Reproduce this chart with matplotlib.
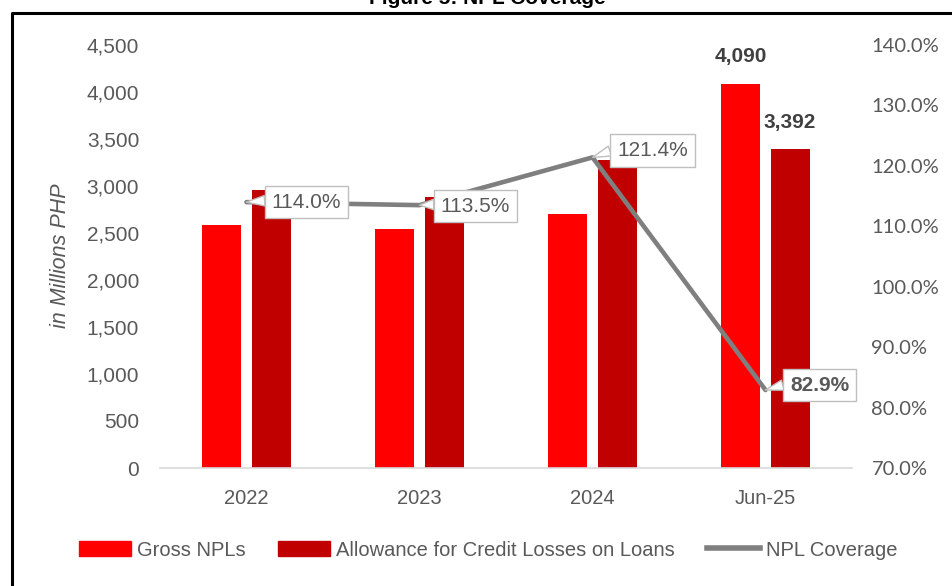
import matplotlib
matplotlib.use("Agg")
import matplotlib.pyplot as plt
from matplotlib.lines import Line2D
from matplotlib.patches import Patch
from matplotlib.ticker import FuncFormatter, MultipleLocator
import numpy as np

categories = ["2022", "2023", "2024", "Jun-25"]
gross_npls = [2590, 2540, 2700, 4090]
allowance = [2953, 2883, 3278, 3392]
npl_coverage = [1.140, 1.135, 1.214, 0.829]
coverage_labels = ["114.0%", "113.5%", "121.4%", "82.9%"]
bar_labels_last = ["4,090", "3,392"]

RED = "#FF0000"
DARK_RED = "#C00000"
LINE_GRAY = "#7F7F7F"
TEXT_GRAY = "#595959"
NUM_FONT = ["Liberation Sans", "DejaVu Sans"]
NARROW_FONT = ["Liberation Sans", "DejaVu Sans"]
RIGHT_FONT = ["Lato", "DejaVu Sans"]

fig = plt.figure(figsize=(9.52, 5.86), dpi=100)
W, H = 952, 586
ax = fig.add_axes([160 / W, 118 / H, 692 / W, 423 / H])
ax2 = ax.twinx()

x = np.arange(len(categories))
bw = 0.225
off = 0.142
ax.bar(x - off, gross_npls, bw, color=RED, zorder=2)
ax.bar(x + off, allowance, bw, color=DARK_RED, zorder=2)

ax.set_xlim(-0.5, len(categories) - 0.5)
ax.set_ylim(0, 4500)
ax.yaxis.set_major_locator(MultipleLocator(500))
ax.yaxis.set_major_formatter(FuncFormatter(lambda v, p: f"{int(v):,}"))
ax.set_xticks(x)
ax.set_xticklabels(categories)

for s in ["top", "right", "left"]:
    ax.spines[s].set_visible(False)
    ax2.spines[s].set_visible(False)
ax.spines["bottom"].set_color("#D9D9D9")
ax.spines["bottom"].set_linewidth(1.2)
ax2.spines["bottom"].set_visible(False)

ax.tick_params(axis="y", length=0, pad=15, labelsize=15, labelcolor=TEXT_GRAY)
ax.tick_params(axis="x", length=0, pad=15, labelsize=14.5, labelcolor=TEXT_GRAY)
for lab in ax.get_yticklabels() + ax.get_xticklabels():
    lab.set_fontfamily(NUM_FONT)

ax.set_ylabel("in Millions PHP", fontsize=15.5, color=TEXT_GRAY, style="italic",
              family=NARROW_FONT)
ax.yaxis.set_label_coords(-0.128, 0.503)

# coverage line on secondary axis
ax2.set_ylim(0.70, 1.40)
ax2.yaxis.set_major_locator(MultipleLocator(0.10))
ax2.yaxis.set_major_formatter(FuncFormatter(lambda v, p: f"{v * 100:.1f}%"))
ax2.tick_params(axis="y", length=0, pad=14, labelsize=14.5, labelcolor=TEXT_GRAY)
for lab in ax2.get_yticklabels():
    lab.set_fontfamily(RIGHT_FONT)
ax2.plot(x, npl_coverage, color=LINE_GRAY, lw=3.3, zorder=3, solid_capstyle="round")

# callout labels for the coverage line
offsets = [(60, 0), (56, -1), (60, 7), (54, 5)]
for i, (val, lbl) in enumerate(zip(npl_coverage, coverage_labels)):
    ax2.annotate(lbl, xy=(x[i], val), xytext=offsets[i], textcoords="offset pixels",
                 ha="center", va="center", fontsize=15, color=TEXT_GRAY,
                 family=NUM_FONT, fontweight="bold" if i == 3 else "normal",
                 bbox=dict(boxstyle="square,pad=0.32", fc="white", ec="#BFBFBF", lw=1),
                 arrowprops=dict(arrowstyle="wedge,tail_width=0.5,shrink_factor=0.5",
                                 fc="white", ec="#BFBFBF", lw=1,
                                 shrinkA=0, shrinkB=0, relpos=(0.0, 0.6)),
                 zorder=5)

# value labels above the latest bars
ax.annotate(bar_labels_last[0], xy=(x[3] - off, gross_npls[3]), xytext=(0, 18),
            textcoords="offset pixels", ha="center", va="bottom", fontsize=15,
            fontweight="bold", color="#404040", family=NUM_FONT)
ax.annotate(bar_labels_last[1], xy=(x[3] + off, allowance[3]), xytext=(0, 17),
            textcoords="offset pixels", ha="center", va="bottom", fontsize=15,
            fontweight="bold", color="#404040", family=NUM_FONT)

# legend
handles = [Patch(color=RED), Patch(color=DARK_RED), Line2D([], [], color=LINE_GRAY, lw=4)]
names = ["Gross NPLs", "Allowance for Credit Losses on Loans", "NPL Coverage"]
fig.legend(handles, names, loc="center", bbox_to_anchor=(488 / W, 1 - 550 / H),
           ncol=3, frameon=False, handlelength=2.6, handleheight=0.75,
           handletextpad=0.3, columnspacing=1.6,
           prop=dict(family=NARROW_FONT, size=14.5), labelcolor=TEXT_GRAY)

# page frame and clipped figure title
fig.add_artist(Line2D([11.5 / W, 11.5 / W, 1.0], [0.0, 1 - 12.5 / H, 1 - 12.5 / H],
                      transform=fig.transFigure, color="black", lw=2.2))
fig.text(487 / W, 1 - 3.5 / H, "Figure 5: NPL Coverage", ha="center", va="baseline",
         fontsize=15, fontweight="bold", color="black", family=NUM_FONT)

fig.savefig("out.png", dpi=100)
